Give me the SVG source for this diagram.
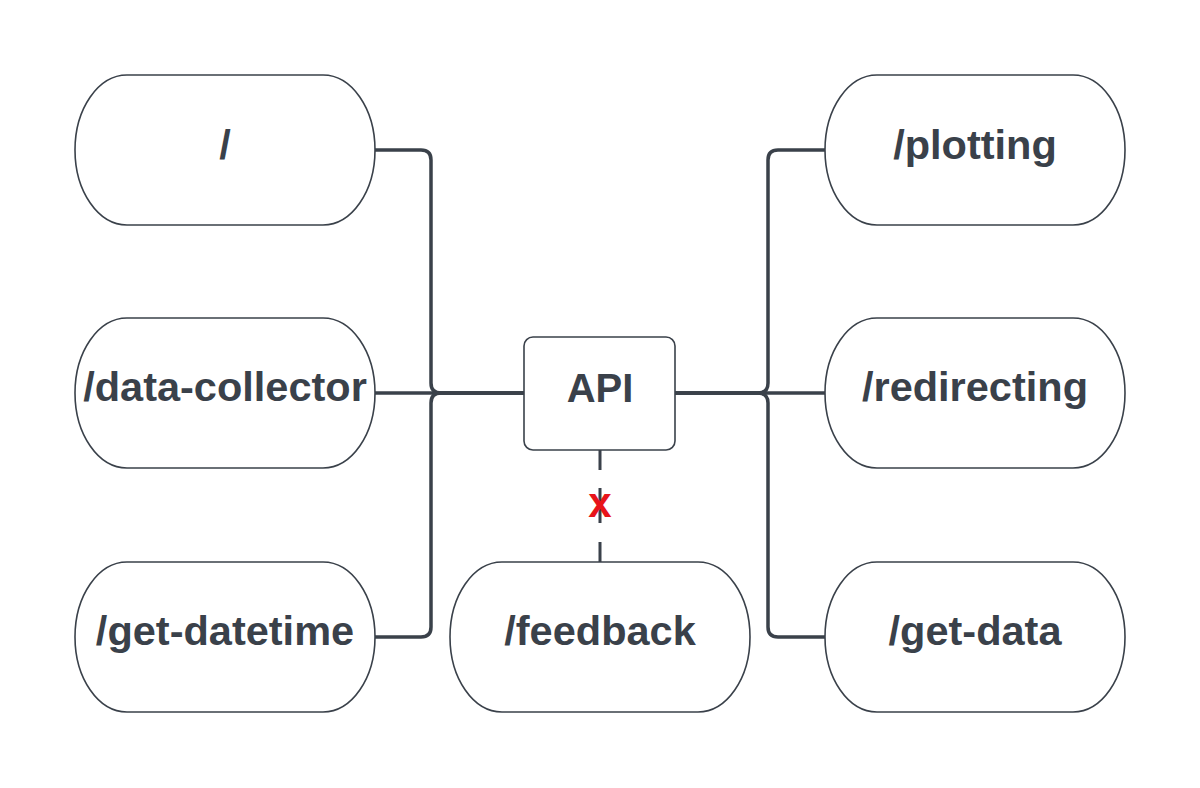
<svg xmlns="http://www.w3.org/2000/svg" width="1200" height="788" viewBox="0 0 1200 788">
<style>
.pill{fill:#ffffff;stroke:#3a414a;stroke-width:1.6}
.box{fill:#ffffff;stroke:#3a414a;stroke-width:1.6}
.lbl{font-family:"Liberation Sans",Arial,sans-serif;font-weight:bold;font-size:41.5px;fill:#3a414a;text-anchor:middle}
.api{font-size:40px}
.conn{fill:none;stroke:#3a414a;stroke-width:3.5;stroke-linejoin:round}
.dash{fill:none;stroke:#3a414a;stroke-width:3}
.x{font-family:"Liberation Sans",Arial,sans-serif;font-weight:bold;font-size:42px;fill:#e8141a;text-anchor:middle}
</style>
<rect width="1200" height="788" fill="#ffffff"/>
<g id="connectors">
<path class="conn" d="M375,150 H421 Q431,150 431,160 V383 Q431,393 441,393 H524"/>
<path class="conn" d="M375,393 H524"/>
<path class="conn" d="M375,637 H421 Q431,637 431,627 V403 Q431,393 441,393 H524"/>
<path class="conn" d="M825,150 H778 Q768,150 768,160 V383 Q768,393 758,393 H675"/>
<path class="conn" d="M825,393 H675"/>
<path class="conn" d="M825,637 H778 Q768,637 768,627 V403 Q768,393 758,393 H675"/>
<g id="feedback-link">
<path class="dash" d="M600,450 V470 M600,488 V523 M600,542 V562"/>
<text class="x" x="600" y="517">x</text>
</g>
</g>
<g id="node-root">
<rect class="pill" x="75" y="75" width="300" height="150" rx="52" ry="75"/>
<text class="lbl" x="225" y="159">/</text>
</g>
<g id="node-data-collector">
<rect class="pill" x="75" y="318" width="300" height="150" rx="52" ry="75"/>
<text class="lbl" x="225" y="401">/data-collector</text>
</g>
<g id="node-get-datetime">
<rect class="pill" x="75" y="562" width="300" height="150" rx="52" ry="75"/>
<text class="lbl" x="225" y="645">/get-datetime</text>
</g>
<g id="node-api">
<rect class="box" x="524" y="337" width="151" height="113" rx="9"/>
<text class="lbl api" x="600" y="402">API</text>
</g>
<g id="node-feedback">
<rect class="pill" x="450" y="562" width="300" height="150" rx="52" ry="75"/>
<text class="lbl" x="600" y="645">/feedback</text>
</g>
<g id="node-plotting">
<rect class="pill" x="825" y="75" width="300" height="150" rx="52" ry="75"/>
<text class="lbl" x="975" y="159">/plotting</text>
</g>
<g id="node-redirecting">
<rect class="pill" x="825" y="318" width="300" height="150" rx="52" ry="75"/>
<text class="lbl" x="975" y="401">/redirecting</text>
</g>
<g id="node-get-data">
<rect class="pill" x="825" y="562" width="300" height="150" rx="52" ry="75"/>
<text class="lbl" x="975" y="645">/get-data</text>
</g>
</svg>
